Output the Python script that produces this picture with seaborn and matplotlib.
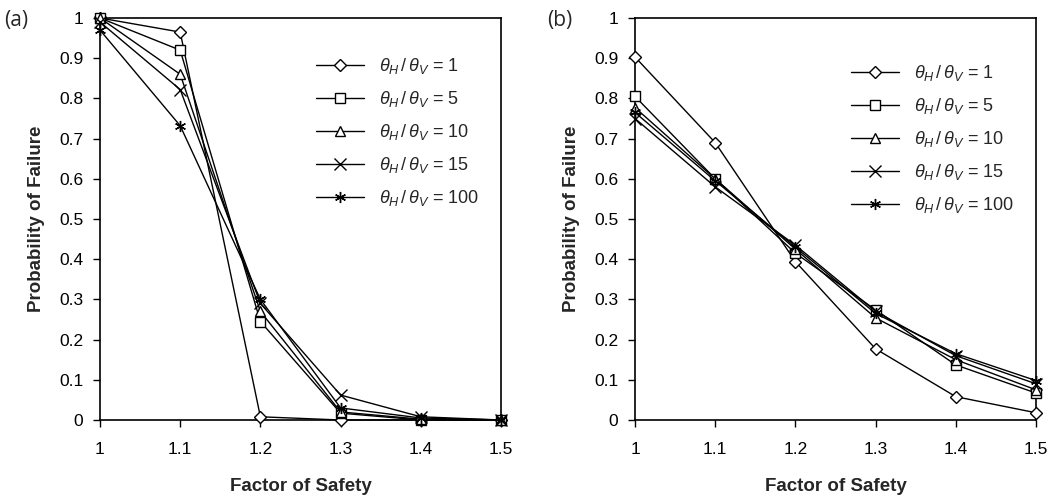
import matplotlib
matplotlib.use("Agg")
import matplotlib.pyplot as plt
import seaborn as sns
import pandas as pd

fos = [1.0, 1.1, 1.2, 1.3, 1.4, 1.5]
ratios = ["1", "5", "10", "15", "100"]

# Panel (a)
a_r1 = [1.00, 0.965, 0.008, 0.000, 0.000, 0.000]
a_r5 = [1.00, 0.920, 0.245, 0.017, 0.000, 0.000]
a_r10 = [1.00, 0.860, 0.270, 0.020, 0.002, 0.000]
a_r15 = [0.99, 0.822, 0.290, 0.062, 0.008, 0.000]
a_r100 = [0.97, 0.732, 0.300, 0.030, 0.005, 0.000]

# Panel (b)
b_r1 = [0.903, 0.690, 0.394, 0.177, 0.058, 0.018]
b_r5 = [0.805, 0.600, 0.415, 0.274, 0.137, 0.067]
b_r10 = [0.777, 0.600, 0.425, 0.254, 0.150, 0.075]
b_r15 = [0.750, 0.580, 0.435, 0.270, 0.160, 0.090]
b_r100 = [0.765, 0.595, 0.430, 0.265, 0.165, 0.098]

panel_a = [a_r1, a_r5, a_r10, a_r15, a_r100]
panel_b = [b_r1, b_r5, b_r10, b_r15, b_r100]

markers = ["D", "s", "^", "x", (6, 2, 0)]
msizes = [6, 7, 7, 8, 8]

def long_df(series):
    rows = []
    for r, vals in zip(ratios, series):
        for x, y in zip(fos, vals):
            rows.append({"fos": x, "pf": y, "ratio": r})
    return pd.DataFrame(rows)

sns.set_style("ticks")
plt.rcParams["font.family"] = ["Liberation Sans", "DejaVu Sans"]
plt.rcParams["mathtext.fontset"] = "custom"
plt.rcParams["mathtext.it"] = "Liberation Sans:italic"
plt.rcParams["mathtext.rm"] = "Liberation Sans"

fig = plt.figure(figsize=(10.55, 4.97), dpi=100)
ax_a = fig.add_axes([100 / 1055, 1 - 420 / 497, 401 / 1055, 402 / 497])
ax_b = fig.add_axes([635 / 1055, 1 - 420 / 497, 401 / 1055, 402 / 497])

setups = [(ax_a, panel_a, "(a)", 4 / 1055, 0.945),
          (ax_b, panel_b, "(b)", 547 / 1055, 0.928)]

for ax, series, tag, tx, ltop in setups:
    df = long_df(series)
    for i, r in enumerate(ratios):
        sub = df[df["ratio"] == r]
        sns.lineplot(data=sub, x="fos", y="pf", ax=ax, color="black",
                     marker=markers[i], markersize=msizes[i],
                     markerfacecolor="white", markeredgecolor="black",
                     markeredgewidth=1.0, linewidth=1.0, legend=False,
                     clip_on=False, zorder=3)
    ax.set_xlim(1.0, 1.5)
    ax.set_ylim(0, 1)
    ax.set_xticks(fos)
    ax.set_xticklabels(["1", "1.1", "1.2", "1.3", "1.4", "1.5"])
    ax.set_yticks([i / 10 for i in range(11)])
    ax.set_yticklabels(["0"] + [f"0.{i}" for i in range(1, 10)] + ["1"])
    ax.tick_params(axis="both", direction="out", length=5, width=1, colors="black",
                   labelsize=12.5)
    ax.tick_params(axis="x", pad=11)
    ax.tick_params(axis="y", pad=7)
    for s in ax.spines.values():
        s.set_visible(True)
        s.set_color("black")
        s.set_linewidth(1.2)
    ax.set_xlabel("Factor of Safety", fontsize=13.5, fontweight="bold", labelpad=15)
    ax.set_ylabel("Probability of Failure", fontsize=13.5, fontweight="bold", labelpad=10)
    handles = ax.get_lines()[:5]
    labels = [rf"$\theta_H\,/\,\theta_V$ = {r}" for r in ratios]
    ax.legend(handles, labels, loc="upper right", bbox_to_anchor=(0.985, ltop),
              frameon=False, fontsize=13, handlelength=2.7, labelspacing=0.72,
              handletextpad=0.8)
    fig.text(tx, 0.98, tag, fontsize=15, ha="left", va="top",
             family=["Open Sans", "DejaVu Sans"])

fig.savefig("out.png", dpi=100)
